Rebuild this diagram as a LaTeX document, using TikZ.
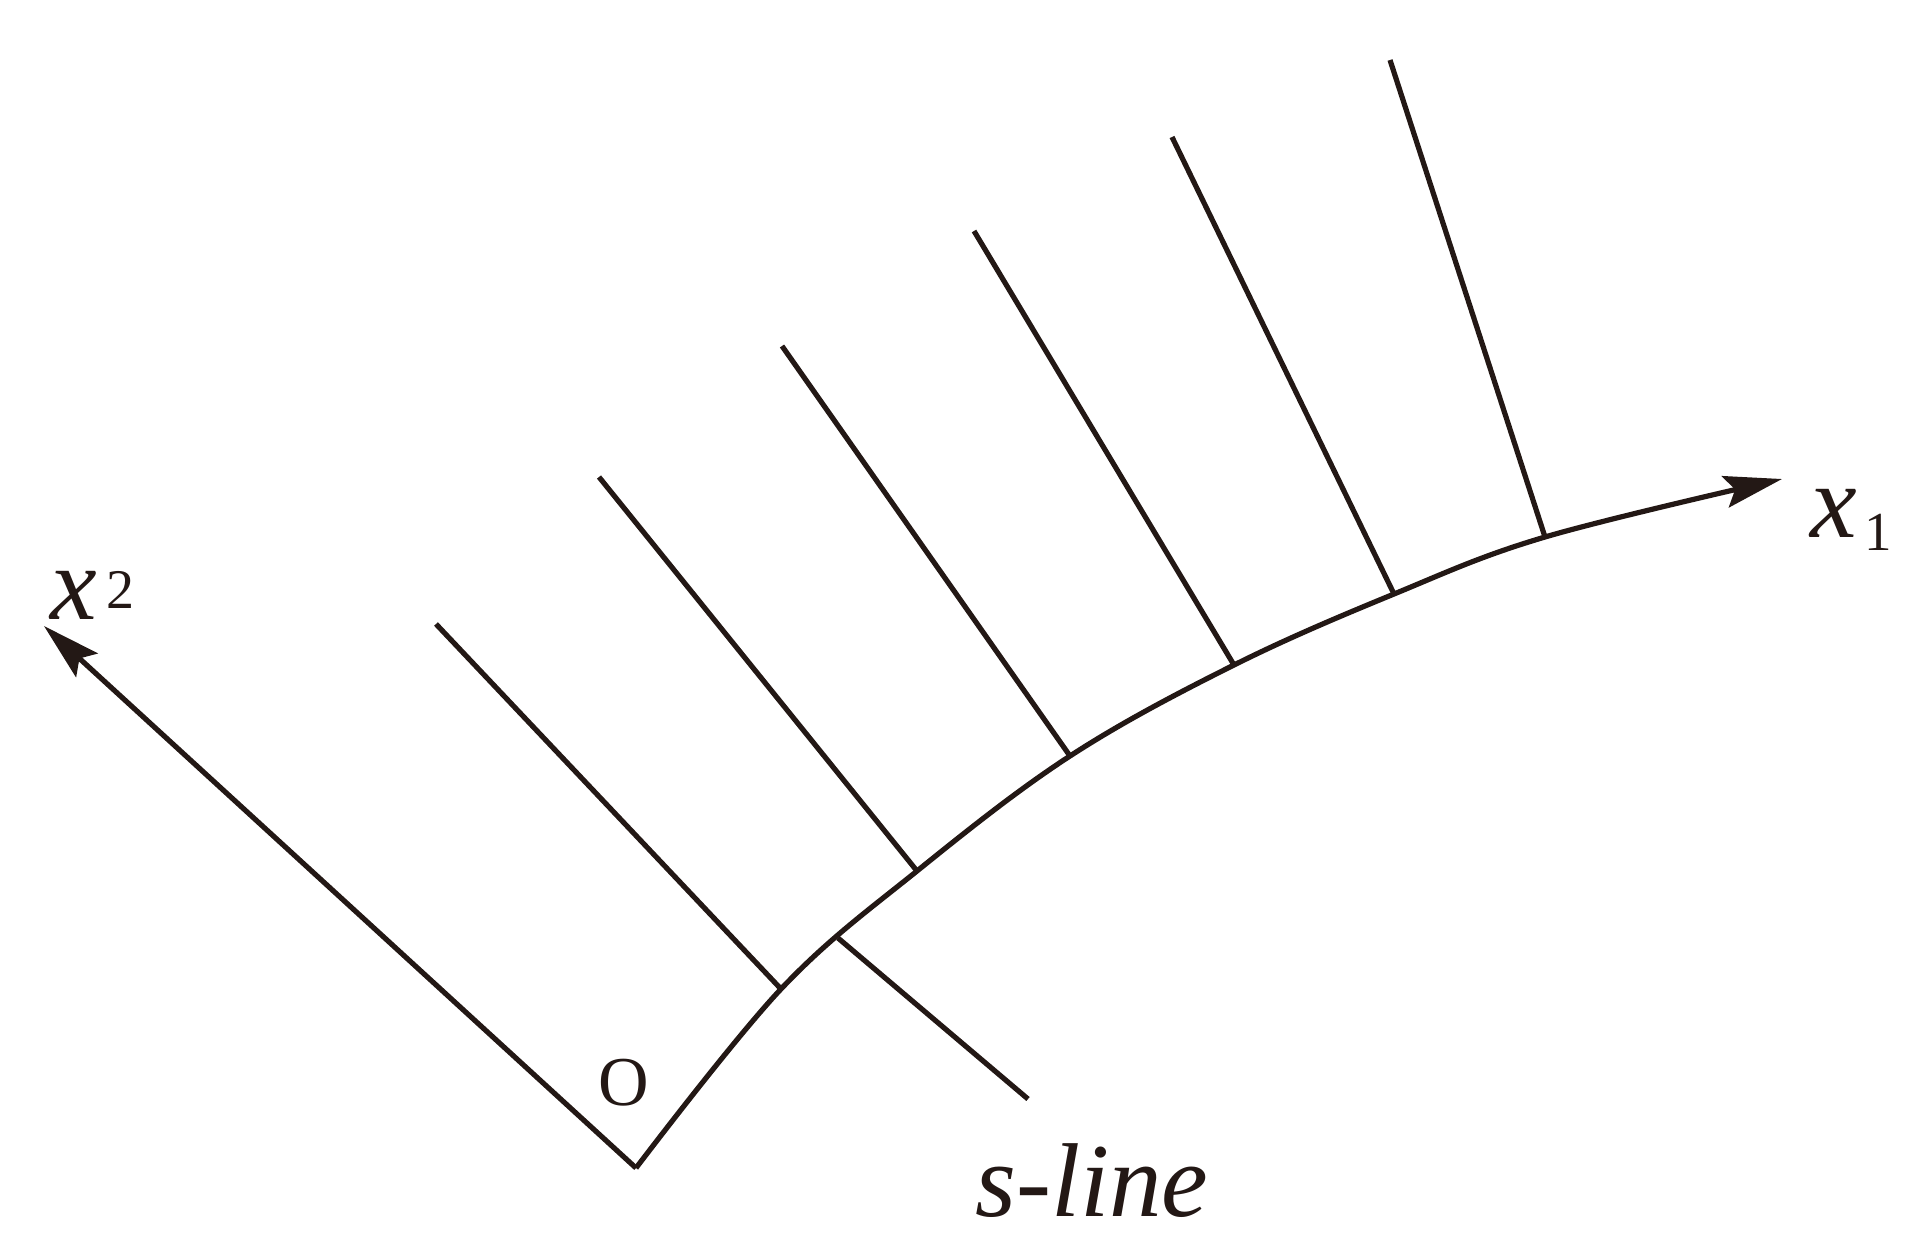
\documentclass[tikz,border=0pt]{standalone}
\usepackage{fontspec}
\setmainfont{Liberation Serif}
\usetikzlibrary{arrows.meta}
\definecolor{ink}{RGB}{35,24,21}
\begin{document}
\begin{tikzpicture}[x=1pt,y=-1pt,
  ln/.style={draw=ink,line width=5.2pt},
  arr/.style={ln,-{Stealth[length=58pt,width=32pt,inset=10pt]}},
  lbl/.style={text=ink,inner sep=0pt,font=\fontsize{105}{105}\selectfont}]
\useasboundingbox (0,0) rectangle (1920,1248);
% origin and axis tips
\coordinate (C)  at (636,1168);
\coordinate (X2) at (44,626);
\coordinate (X1) at (1782,479);
% points on the curve
\coordinate (P1) at (781,989);
\coordinate (Ps) at (838,938);
\coordinate (P2) at (917,871);
\coordinate (P3) at (1070,756);
\coordinate (P4) at (1234,665);
\coordinate (P5) at (1394,594);
\coordinate (P6) at (1545,537);
% free ends of the normal lines
\coordinate (T1) at (436,624);
\coordinate (T2) at (599,477);
\coordinate (T3) at (782,346);
\coordinate (T4) at (974,231);
\coordinate (T5) at (1172,137);
\coordinate (T6) at (1390,60);
\coordinate (Se) at (1028,1099);
% axes
\draw[arr] (C) -- (X2);
\draw[arr] plot[smooth,tension=0.6] coordinates {(C) (P1) (P2) (P3) (P4) (P5) (P6) (X1)};
% normal lines
\foreach \i in {1,...,6} \draw[ln] (P\i) -- (T\i);
\draw[ln] (Ps) -- (Se);
% labels
\node[lbl,anchor=base west] (x1lab) at (1810,537) {\textit{x}\kern8pt\raisebox{-13pt}{\fontsize{55}{55}\selectfont 1}};
\node[lbl,anchor=base west] (x2lab) at (50,619) {\textit{x}\kern10pt\raisebox{11pt}{\fontsize{56}{56}\selectfont 2}};
\node[lbl,font=\fontsize{70}{70}\selectfont] (O) at (624,1083) {O};
\node[lbl,anchor=base west] (sl) at (975,1216) {\textit{s-line}};
\end{tikzpicture}
\end{document}
